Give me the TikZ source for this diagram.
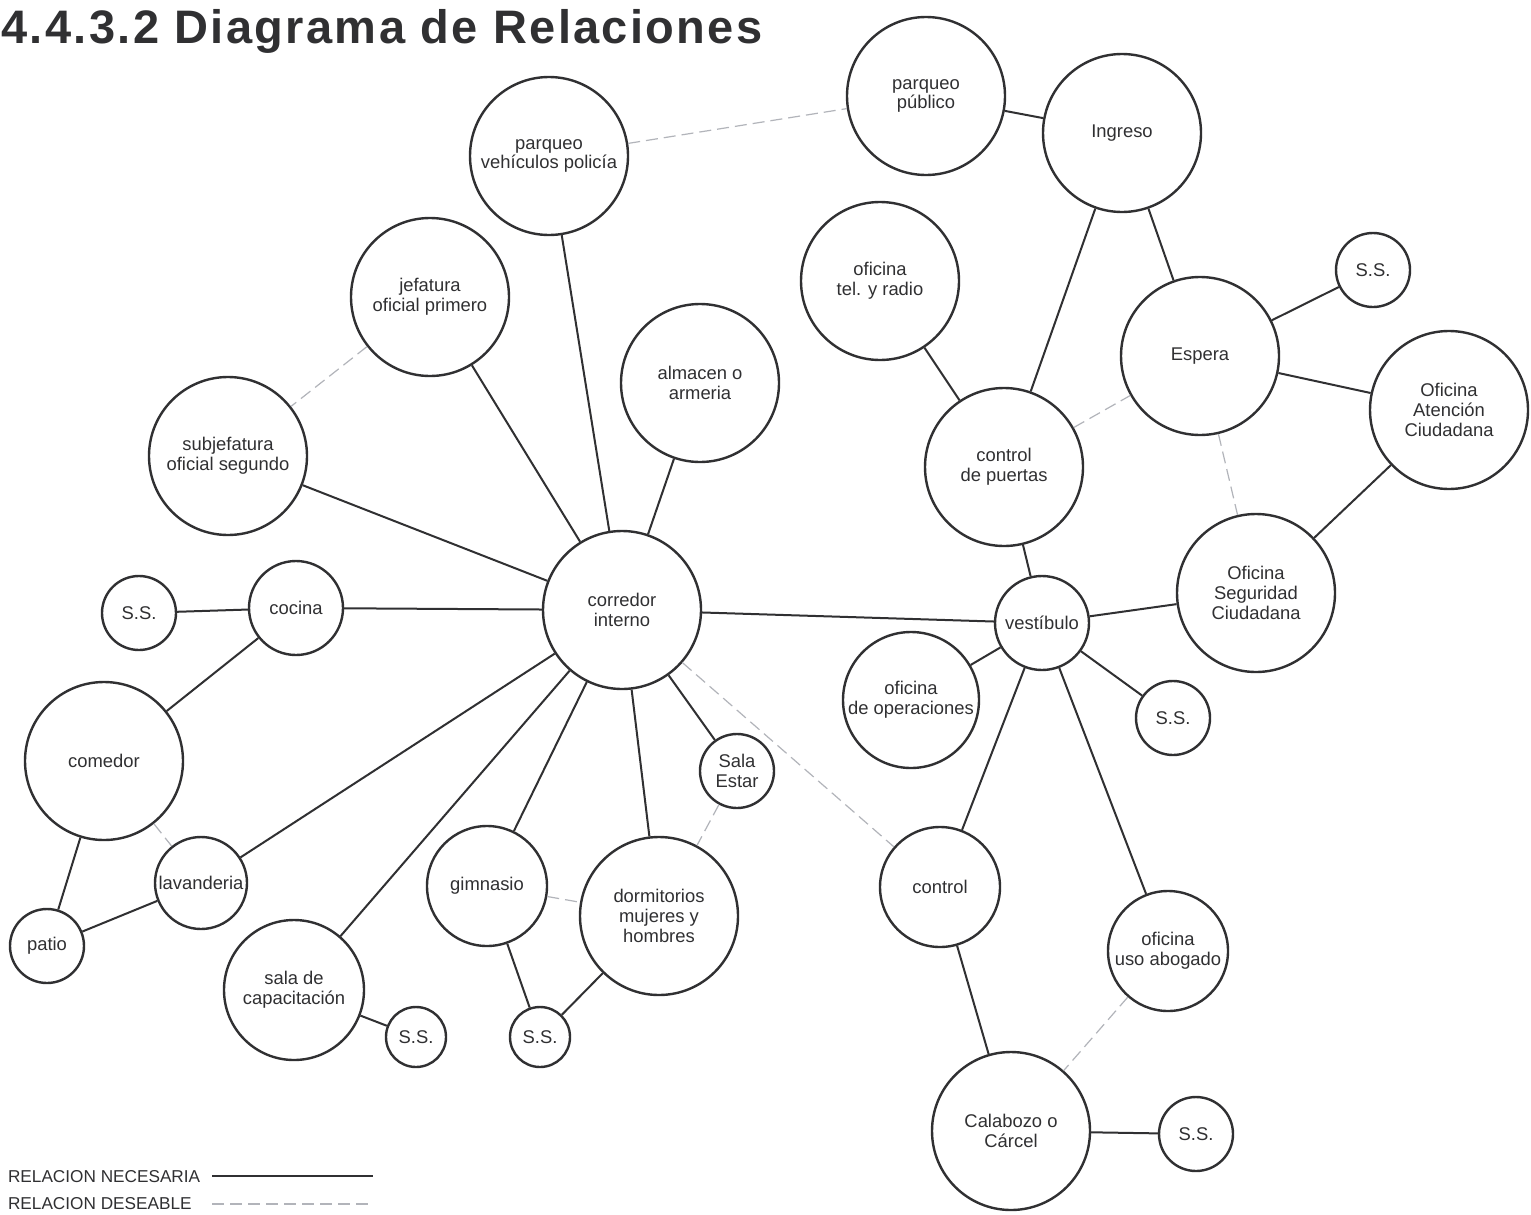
\documentclass[tikz,border=0pt]{standalone}
\usepackage{fontspec}
\setmainfont{Liberation Sans}
\newfontfamily\titlefont[LetterSpace=5]{Liberation Sans}
\usepackage{tikz}
\definecolor{ink}{RGB}{48,48,50}
\definecolor{inkpale}{RGB}{178,180,186}

\begin{document}
\begin{tikzpicture}[x=0.5pt,y=-0.5pt,
    every node/.style={align=center,text=ink,font=\fontsize{9.2}{9.8}\selectfont},
    room/.style={circle,draw=ink,line width=1.2pt,inner sep=0pt},
    roomL/.style={room,minimum size=79pt},
    roomM/.style={room,minimum size=60pt},
    roomS/.style={room,minimum size=47pt},
    roomSS/.style={room,minimum size=37pt},
    roomXS/.style={room,minimum size=30pt},
    need/.style={draw=ink,line width=1pt},
    wish/.style={draw=inkpale,line width=0.6pt,dash pattern=on 6pt off 3pt}]
  \useasboundingbox[fill=white] (0,0) rectangle (1531,1215);
  % title
  \node[anchor=base west,inner xsep=0pt,font=\titlefont\bfseries\fontsize{23.5}{26}\selectfont] (title) at (1,43) {4.4.3.2 Diagrama de Relaciones};

  % rooms, public side
  \node[roomL] (pubpark) at (926,96) {parqueo\\público};
  \node[roomL] (ingreso) at (1122,133) {Ingreso};
  \node[roomL] (telradio) at (880,281) {oficina\\tel. y radio};
  \node[roomSS] (ssEsp) at (1373,270) {S.S.};
  \node[roomL] (espera) at (1200,356) {Espera};
  \node[roomL] (atencion) at (1449,410) {Oficina\\Atención\\Ciudadana};
  \node[roomL] (puertas) at (1004,467) {control\\de puertas};
  \node[roomL] (seguridad) at (1256,593) {Oficina\\Seguridad\\Ciudadana};
  \node[roomS] (vestibulo) at (1042,623) {vestíbulo};
  \node[room,minimum size=68pt] (operac) at (911,700) {oficina\\de operaciones};
  \node[roomSS] (ssVest) at (1173,718) {S.S.};
  \node[roomM] (control) at (940,887) {control};
  \node[roomM] (abogado) at (1168,951) {oficina\\uso abogado};
  \node[roomL] (calabozo) at (1011,1131) {Calabozo o\\Cárcel};
  \node[roomSS] (ssCal) at (1196,1134) {S.S.};

  % rooms, internal side
  \node[roomL] (policepark) at (549,156) {parqueo\\vehículos policía};
  \node[roomL] (jefatura) at (430,297) {jefatura\\oficial primero};
  \node[roomL] (almacen) at (700,383) {almacen o\\armeria};
  \node[roomL] (subjef) at (228,456) {subjefatura\\oficial segundo};
  \node[roomL] (corredor) at (622,610) {corredor\\interno};
  \node[roomSS] (ssCoc) at (139,613) {S.S.};
  \node[roomS] (cocina) at (296,608) {cocina};
  \node[roomL] (comedor) at (104,761) {comedor};
  \node[roomSS] (salaestar) at (737,771) {Sala\\Estar};
  \node[room,minimum size=46pt] (lavand) at (201,883) {lavanderia};
  \node[roomM] (gimnasio) at (487,886) {gimnasio};
  \node[roomL] (dormit) at (659,916) {dormitorios\\mujeres y\\hombres};
  \node[roomSS] (patio) at (47,946) {patio};
  \node[room,minimum size=70pt] (capacit) at (294,990) {sala de\\capacitación};
  \node[roomXS] (ssCap) at (416,1037) {S.S.};
  \node[roomXS] (ssGim) at (540,1037) {S.S.};

  % necessary relations
  \draw[need] (pubpark) -- (ingreso);
  \draw[need] (ingreso) -- (puertas);
  \draw[need] (ingreso) -- (espera);
  \draw[need] (espera) -- (ssEsp);
  \draw[need] (espera) -- (atencion);
  \draw[need] (atencion) -- (seguridad);
  \draw[need] (telradio) -- (puertas);
  \draw[need] (puertas) -- (vestibulo);
  \draw[need] (vestibulo) -- (seguridad);
  \draw[need] (vestibulo) -- (corredor);
  \draw[need] (vestibulo) -- (operac);
  \draw[need] (vestibulo) -- (ssVest);
  \draw[need] (vestibulo) -- (control);
  \draw[need] (vestibulo) -- (abogado);
  \draw[need] (control) -- (calabozo);
  \draw[need] (calabozo) -- (ssCal);
  \draw[need] (corredor) -- (policepark);
  \draw[need] (corredor) -- (jefatura);
  \draw[need] (corredor) -- (almacen);
  \draw[need] (corredor) -- (subjef);
  \draw[need] (corredor) -- (cocina);
  \draw[need] (corredor) -- (lavand);
  \draw[need] (corredor) -- (capacit);
  \draw[need] (corredor) -- (gimnasio);
  \draw[need] (corredor) -- (dormit);
  \draw[need] (corredor) -- (salaestar);
  \draw[need] (cocina) -- (ssCoc);
  \draw[need] (cocina) -- (comedor);
  \draw[need] (comedor) -- (patio);
  \draw[need] (patio) -- (lavand);
  \draw[need] (capacit) -- (ssCap);
  \draw[need] (gimnasio) -- (ssGim);
  \draw[need] (dormit) -- (ssGim);

  % desirable relations
  \draw[wish] (policepark) -- (pubpark);
  \draw[wish] (jefatura) -- (subjef);
  \draw[wish] (puertas) -- (espera);
  \draw[wish] (espera) -- (seguridad);
  \draw[wish] (comedor) -- (lavand);
  \draw[wish] (gimnasio) -- (dormit);
  \draw[wish] (salaestar) -- (dormit);
  \draw[wish] (corredor) -- (control);
  \draw[wish] (abogado) -- (calabozo);

  % legend
  \node[anchor=base west,font=\fontsize{8.6}{9}\selectfont] (legNeed) at (1,1182) {RELACION NECESARIA};
  \node[anchor=base west,font=\fontsize{8.6}{9}\selectfont] (legWish) at (1,1209) {RELACION DESEABLE};
  \coordinate (legNeedA) at (212,1176);
  \coordinate (legNeedB) at (373,1176);
  \coordinate (legWishA) at (212,1204);
  \coordinate (legWishB) at (373,1204);
  \draw[draw=ink,line width=0.6pt] (legNeedA) -- (legNeedB);
  \draw[wish] (legWishA) -- (legWishB);
\end{tikzpicture}
\end{document}
